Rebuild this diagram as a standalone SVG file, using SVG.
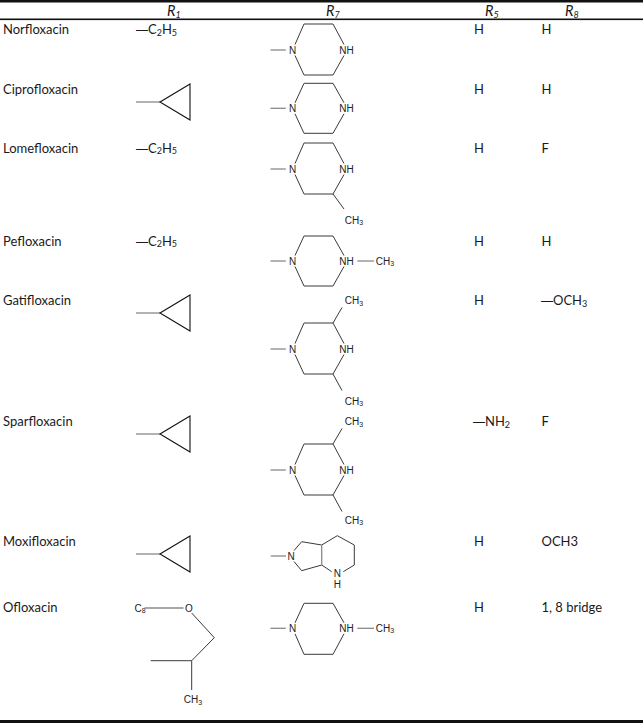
<svg xmlns="http://www.w3.org/2000/svg" width="643" height="724" viewBox="0 0 643 724">
<style>
.t{font-family:Lato,"Liberation Sans",sans-serif;font-size:13px;fill:#1a1a1a}
.d{font-family:"Liberation Sans",Arial,sans-serif;font-size:12px}
.h{font-family:Lato,"Liberation Sans",sans-serif;font-size:14.5px;font-style:italic;fill:#1a1a1a}
.a{font-family:"Liberation Sans",Arial,sans-serif;font-size:10px;fill:#222;text-anchor:middle}
.b{fill:none;stroke:#3a3a3a;stroke-width:1}
.s{fill:none;stroke:#8a8a8a;stroke-width:1.3}
.k{fill:none;stroke:#111;stroke-width:1.1}
.rule{fill:#111}
</style>
<rect width="643" height="724" fill="#fff"/>
<g id="rules">
<rect class="rule" x="0" y="0" width="643" height="2.5"/>
<rect class="rule" x="0" y="18.5" width="643" height="1.6"/>
<rect class="rule" x="0" y="720" width="643" height="3"/>
</g>
<g id="header">
<text class="h" x="167" y="15.5">R<tspan font-size="9" dy="2">1</tspan></text>
<text class="h" x="326" y="15.5">R<tspan font-size="9" dy="2">7</tspan></text>
<text class="h" x="485" y="15.5">R<tspan font-size="9" dy="2">5</tspan></text>
<text class="h" x="565" y="15.5">R<tspan font-size="9" dy="2">8</tspan></text>
</g>
<g id="names">
<text class="t" x="3" y="34">Norfloxacin</text>
<text class="t" x="3" y="94">Ciprofloxacin</text>
<text class="t" x="3" y="152.5">Lomefloxacin</text>
<text class="t" x="3" y="245.5">Pefloxacin</text>
<text class="t" x="3" y="305">Gatifloxacin</text>
<text class="t" x="3" y="426">Sparfloxacin</text>
<text class="t" x="3" y="546">Moxifloxacin</text>
<text class="t" x="3" y="612">Ofloxacin</text>
</g>
<g id="r1-values">
<text class="t" x="136" y="34"><tspan class="d">—</tspan>C<tspan font-size="9" dy="1.5">2</tspan><tspan dy="-1.5">H</tspan><tspan font-size="9" dy="1.5">5</tspan></text>
<text class="t" x="136" y="152.5"><tspan class="d">—</tspan>C<tspan font-size="9" dy="1.5">2</tspan><tspan dy="-1.5">H</tspan><tspan font-size="9" dy="1.5">5</tspan></text>
<text class="t" x="136" y="245.5"><tspan class="d">—</tspan>C<tspan font-size="9" dy="1.5">2</tspan><tspan dy="-1.5">H</tspan><tspan font-size="9" dy="1.5">5</tspan></text>
</g>
<g id="cyclopropyl-cipro" transform="translate(136,102)"><path class="s" d="M0,0H24"/><path class="k" d="M24,0L54,-18V18Z"/></g>
<g id="cyclopropyl-gati" transform="translate(136,313)"><path class="s" d="M0,0H24"/><path class="k" d="M24,0L54,-18V18Z"/></g>
<g id="cyclopropyl-sparf" transform="translate(136,434)"><path class="s" d="M0,0H24"/><path class="k" d="M24,0L54,-18V18Z"/></g>
<g id="cyclopropyl-moxi" transform="translate(136,554)"><path class="s" d="M0,0H24"/><path class="k" d="M24,0L54,-18V18Z"/></g>
<g id="ofloxacin-r1">
<text class="a" x="140" y="611.5" font-size="9">C<tspan font-size="7" dy="1.5">8</tspan></text>
<path class="s" d="M144.5,608H183.5"/>
<text class="a" x="189" y="611.8">O</text>
<path class="b" d="M191.7,613L214.3,637.7L191.7,660.7M150.7,660.7H191.7V690"/>
<text class="a" x="193" y="703">CH<tspan font-size="7" dy="1.5">3</tspan></text>
</g>
<g id="pip-norflox" transform="translate(292.5,50)">
<path class="s" d="M-22,0H-6.7"/>
<path class="b" d="M2.5,-5.5L11.5,-26H40.5L51.5,-5.5M51.5,5.5L40.5,25H11.5L2.5,5.5"/>
<text class="a" x="0" y="3.6">N</text><text class="a" x="54" y="3.6">NH</text>
</g>
<g id="pip-cipro" transform="translate(292.5,108.3)">
<path class="s" d="M-22,0H-6.7"/>
<path class="b" d="M2.5,-5.5L11.5,-25H40.5L51.5,-5.5M51.5,5.5L40.5,25H11.5L2.5,5.5"/>
<text class="a" x="0" y="3.6">N</text><text class="a" x="54" y="3.6">NH</text>
</g>
<g id="pip-lome" transform="translate(292.5,169)">
<path class="s" d="M-22,0H-6.7"/>
<path class="b" d="M2.5,-5.5L11.5,-26H40.5L51.5,-5.5M51.5,5.5L40.5,25H11.5L2.5,5.5M40.5,25L51.5,40"/>
<text class="a" x="0" y="3.6">N</text><text class="a" x="54" y="3.6">NH</text>
<text class="a" x="61.5" y="54.5">CH<tspan font-size="7" dy="1.5">3</tspan></text>
</g>
<g id="pip-peflox" transform="translate(292.5,261)">
<path class="s" d="M-22,0H-6.7"/>
<path class="b" d="M2.5,-5.5L11.5,-25H40.5L51.5,-5.5M51.5,5.5L40.5,25H11.5L2.5,5.5"/>
<path class="s" d="M64.8,0H81.5"/>
<text class="a" x="0" y="3.6">N</text><text class="a" x="54" y="3.6">NH</text>
<text class="a" x="92.5" y="3.6">CH<tspan font-size="7" dy="1.5">3</tspan></text>
</g>
<g id="pip-gati" transform="translate(292.5,349)">
<path class="s" d="M-22,0H-6.7"/>
<path class="b" d="M2.5,-5.5L11.5,-26H40.5L51.5,-5.5M51.5,5.5L40.5,25H11.5L2.5,5.5M40.5,-26L49.5,-41.5M40.5,25L49.5,41.5"/>
<text class="a" x="0" y="3.6">N</text><text class="a" x="54" y="3.6">NH</text>
<text class="a" x="61.5" y="-45">CH<tspan font-size="7" dy="1.5">3</tspan></text>
<text class="a" x="61.5" y="55.5">CH<tspan font-size="7" dy="1.5">3</tspan></text>
</g>
<g id="pip-sparf" transform="translate(292.5,470)">
<path class="s" d="M-22,0H-6.7"/>
<path class="b" d="M2.5,-5.5L11.5,-26H40.5L51.5,-5.5M51.5,5.5L40.5,25H11.5L2.5,5.5M40.5,-26L49.5,-41.5M40.5,25L49.5,41.5"/>
<text class="a" x="0" y="3.6">N</text><text class="a" x="54" y="3.6">NH</text>
<text class="a" x="61.5" y="-45">CH<tspan font-size="7" dy="1.5">3</tspan></text>
<text class="a" x="61.5" y="53.5">CH<tspan font-size="7" dy="1.5">3</tspan></text>
</g>
<g id="bicyclic-moxi">
<path class="s" d="M270.7,556H286"/>
<path class="b" d="M294,550.5L301.7,541.7L321.7,545L337.3,535.7L354.3,545V565L343.3,571.7M331.7,571.7L321.7,565L301.7,570.7L294,561.5"/>
<path class="s" d="M321.7,545V565"/>
<text class="a" x="291" y="559.6">N</text>
<text class="a" x="337.3" y="576.8">N</text>
<text class="a" x="337.3" y="587.5">H</text>
</g>
<g id="pip-oflox" transform="translate(292.5,628.3)">
<path class="s" d="M-22,0H-6.7"/>
<path class="b" d="M2.5,-5.5L11.5,-25H40.5L51.5,-5.5M51.5,5.5L40.5,26H11.5L2.5,5.5"/>
<path class="s" d="M64.8,0H81.5"/>
<text class="a" x="0" y="3.6">N</text><text class="a" x="54" y="3.6">NH</text>
<text class="a" x="92.5" y="3.6">CH<tspan font-size="7" dy="1.5">3</tspan></text>
</g>
<g id="r5-values">
<text class="t" x="474" y="34">H</text>
<text class="t" x="474" y="94">H</text>
<text class="t" x="474" y="152.5">H</text>
<text class="t" x="474" y="245.5">H</text>
<text class="t" x="474" y="305">H</text>
<text class="t" x="473" y="426"><tspan class="d">—</tspan>NH<tspan font-size="9" dy="1.5">2</tspan></text>
<text class="t" x="474" y="546">H</text>
<text class="t" x="474" y="612">H</text>
</g>
<g id="r8-values">
<text class="t" x="541.5" y="34">H</text>
<text class="t" x="541.5" y="94">H</text>
<text class="t" x="541.5" y="152.5">F</text>
<text class="t" x="541.5" y="245.5">H</text>
<text class="t" x="541" y="305"><tspan class="d">—</tspan>OCH<tspan font-size="9" dy="1.5">3</tspan></text>
<text class="t" x="541.5" y="426">F</text>
<text class="t" x="541.5" y="546">OCH3</text>
<text class="t" x="541.5" y="612">1, 8 bridge</text>
</g>
</svg>
